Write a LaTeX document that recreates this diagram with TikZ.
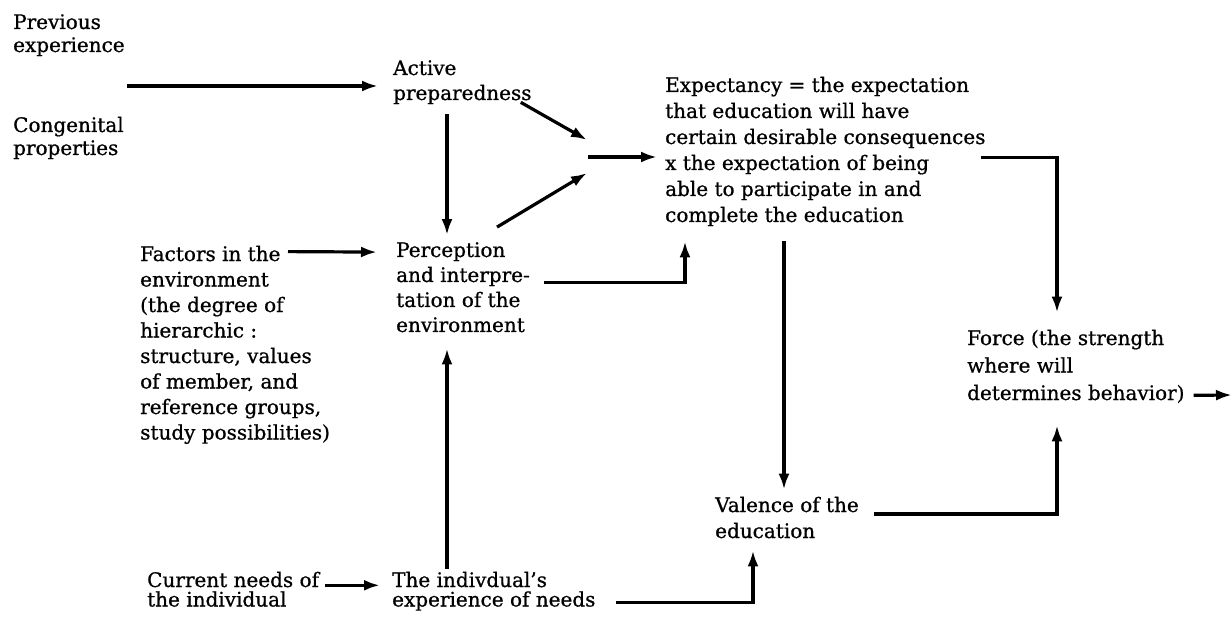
\documentclass[tikz,border=0pt]{standalone}
\usepackage{fontspec}
\setmainfont{DejaVu Serif}[FakeBold=0.8]
\usetikzlibrary{arrows.meta}

\begin{document}
\begin{tikzpicture}[x=1pt, y=-1pt, >={Latex[length=16pt,width=11pt]},
  t/.style={anchor=base west, align=left, inner sep=0pt,
            font=\fontsize{20}{25}\selectfont},
  tt/.style={t, font=\fontsize{20}{19.5}\selectfont},
  ar/.style={->, line width=3.2pt}]
  \path[use as bounding box, fill=white] (0,0) rectangle (1232,628);
  \node[t, font=\fontsize{20}{23}\selectfont] (prev) at (13,52) {Previous\\experience};
  \node[t, font=\fontsize{20}{23}\selectfont] (cong) at (13,155) {Congenital\\properties};
  \node[t] (active) at (393,100) {Active\\preparedness};
  \node[t, font=\fontsize{20}{25.5}\selectfont] (factors) at (140,439.5)
    {Factors in the\\environment\\(the degree of\\hierarchic :\\structure, values\\of member, and\\reference groups,\\study possibilities)};
  \node[t] (percep) at (396,332) {Perception\\and interpre-\\tation of the\\environment};
  \node[t, font=\fontsize{20}{26}\selectfont] (exp) at (665,222)
    {Expectancy = the expectation\\that education will have\\certain desirable consequences\\x the expectation of being\\able to participate in and\\complete the education};
  \node[t, font=\fontsize{20}{27.5}\selectfont] (force) at (967,400)
    {Force (the strength\\where will\\determines behavior)};
  \node[t, font=\fontsize{20}{26}\selectfont] (valence) at (715,538) {Valence of the\\education};
  \node[tt] (current) at (147,606.5) {Current needs of\\the individual};
  \node[tt] (indiv) at (392,606.5) {The indivdual's\\experience of needs};
  \coordinate (in) at (127,86);
  \coordinate (jn) at (588,157);
  \coordinate (colA) at (447,0);
  \coordinate (colB) at (784,0);
  \coordinate (colC) at (1057,0);
  \coordinate (colD) at (753,0);
  \coordinate (out) at (1232,395);
  \draw[ar] (in) -- ([xshift=-15pt]in -| active.west);
  \draw[ar, shorten <=10pt, shorten >=7pt] (active.south -| colA) -- (percep.north -| colA);
  \draw[ar] ([shift={(-11,-2)}]active.south east) -- ([shift={(-1,-17)}]jn);
  \draw[ar] ([shift={(34,-15)}]percep.north) -- ([shift={(-1,16)}]jn);
  \draw[ar, shorten >=8pt] (jn) -- (jn -| exp.west);
  \draw[ar] ([shift={(14,-5)}]percep.east) -| ([shift={(20,15)}]exp.south west);
  \draw[ar, shorten <=15pt, shorten >=7pt] (exp.south -| colB) -- (valence.north -| colB);
  \draw[ar] ([shift={(-5,6)}]exp.east) -| ([shift={(0,-17)}]force.north -| colC);
  \draw[ar] ([shift={(15,-3.5)}]valence.east) -| ([shift={(0,22)}]force.south -| colC);
  \draw[ar] ([shift={(20,11.4)}]indiv.east) -| ([shift={(0,12)}]valence.south -| colD);
  \draw[ar, shorten <=3pt, shorten >=16pt] (indiv.north -| colA) -- (percep.south -| colA);
  \draw[ar] ([shift={(148,6)}]factors.north west) -- ([shift={(-19,10)}]percep.north west);
  \draw[ar] ([shift={(6,-4)}]current.east) -- ([shift={(-12,-4)}]current.east -| indiv.west);
  \draw[ar] ([shift={(9,-8)}]force.south east) -- (out);
\end{tikzpicture}
\end{document}
